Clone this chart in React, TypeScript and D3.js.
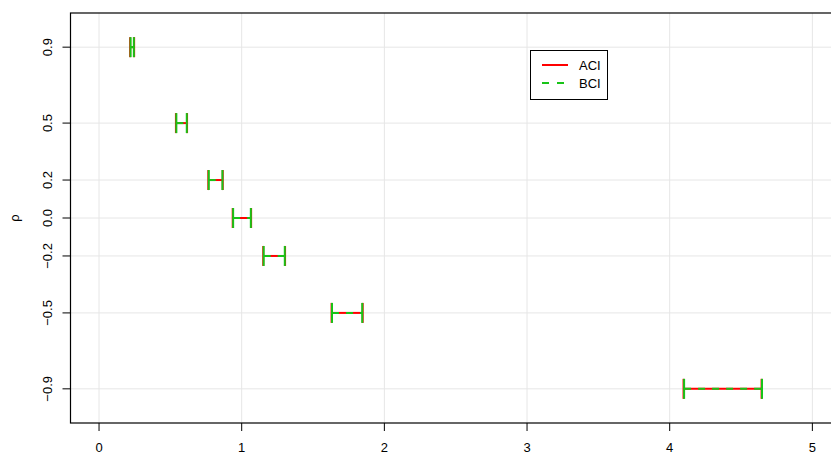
import React from "react";
import * as d3 from "d3";

const rho = [0.9, 0.5, 0.2, 0.0, -0.2, -0.5, -0.9];
const aciLower = [0.218, 0.539, 0.766, 0.937, 1.151, 1.630, 4.097];
const aciUpper = [0.246, 0.617, 0.867, 1.066, 1.304, 1.848, 4.644];
const bciLower = [0.221, 0.542, 0.769, 0.940, 1.154, 1.633, 4.101];
const bciUpper = [0.244, 0.615, 0.865, 1.064, 1.302, 1.845, 4.647];
const xTicks = [0, 1, 2, 3, 4, 5];
const yTicks = [0.9, 0.5, 0.2, 0.0, -0.2, -0.5, -0.9];
const yTickLabels = ["0.9", "0.5", "0.2", "0.0", "\u22120.2", "\u22120.5", "\u22120.9"];
const legendLabels = ["ACI", "BCI"];

const W = 831;
const H = 455;
const RED = "#FF0000";
const GREEN = "#18C418";
const FONT = "'Liberation Sans', Arial, Helvetica, sans-serif";

export default function App() {
  const x = d3.scaleLinear().domain([-0.2, 5.2]).range([70.5, 840.9]);
  const y = d3.scaleLinear().domain([-1.08, 1.08]).range([423, 13]);
  const left = x(-0.2);
  const right = x(5.2);
  const top = y(1.08);
  const bottom = y(-1.08);
  const cap = 10;

  const drawInterval = (lo: number, hi: number, r: number, color: string, dashed: boolean, key: string) => {
    const yy = y(r);
    return (
      <g key={key}>
        <line x1={x(lo)} x2={x(hi)} y1={yy} y2={yy} stroke={color} strokeWidth={2}
          strokeDasharray={dashed ? "7,7" : undefined} />
        <line x1={x(lo)} x2={x(lo)} y1={yy - cap} y2={yy + cap} stroke={color} strokeWidth={2} />
        <line x1={x(hi)} x2={x(hi)} y1={yy - cap} y2={yy + cap} stroke={color} strokeWidth={2} />
      </g>
    );
  };

  return (
    <svg width={W} height={H} style={{ position: "absolute", left: 0, top: 0, background: "#fff" }}
      fontFamily={FONT}>
      <rect x={0} y={0} width={W} height={H} fill="#fff" />
      {/* grid */}
      {xTicks.map((t) => (
        <line key={"gx" + t} x1={x(t)} x2={x(t)} y1={top} y2={bottom} stroke="#E6E6E6" strokeWidth={1} />
      ))}
      {yTicks.map((t) => (
        <line key={"gy" + t} x1={left} x2={right} y1={y(t)} y2={y(t)} stroke="#E6E6E6" strokeWidth={1} />
      ))}
      {/* intervals */}
      {rho.map((r, i) => drawInterval(aciLower[i], aciUpper[i], r, RED, false, "a" + i))}
      {rho.map((r, i) => drawInterval(bciLower[i], bciUpper[i], r, GREEN, true, "b" + i))}
      {/* box */}
      <rect x={left} y={top} width={right - left} height={bottom - top} fill="none" stroke="#000" strokeWidth={1.2} />
      {/* y axis ticks */}
      {yTicks.map((t, i) => (
        <g key={"yt" + i}>
          <line x1={left - 8} x2={left} y1={y(t)} y2={y(t)} stroke="#000" strokeWidth={1} />
          <text transform={`translate(52,${y(t)}) rotate(-90)`} textAnchor="middle" fontSize={13} fill="#000">
            {yTickLabels[i]}
          </text>
        </g>
      ))}
      {/* x axis ticks */}
      {xTicks.map((t) => (
        <g key={"xt" + t}>
          <line x1={x(t)} x2={x(t)} y1={bottom} y2={bottom + 8} stroke="#000" strokeWidth={1} />
          <text x={x(t)} y={452} textAnchor="middle" fontSize={13} fill="#000">{t}</text>
        </g>
      ))}
      {/* y label */}
      <text transform={`translate(19,${(top + bottom) / 2}) rotate(-90)`} textAnchor="middle" fontSize={13} fill="#000">
        ρ
      </text>
      {/* legend */}
      <rect x={530.5} y={50.5} width={77} height={49} fill="#fff" stroke="#000" strokeWidth={1} />
      <line x1={542} x2={568} y1={65} y2={65} stroke={RED} strokeWidth={2} />
      <line x1={542} x2={568} y1={83} y2={83} stroke={GREEN} strokeWidth={2} strokeDasharray="7,8" />
      <text x={579} y={69.5} fontSize={13} fill="#000">{legendLabels[0]}</text>
      <text x={579} y={87.5} fontSize={13} fill="#000">{legendLabels[1]}</text>
    </svg>
  );
}
